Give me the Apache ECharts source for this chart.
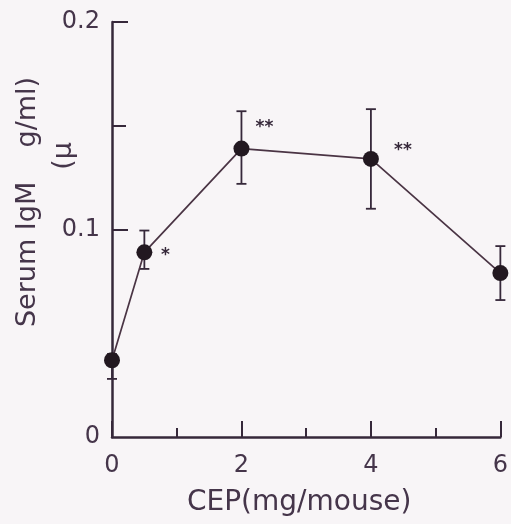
<!DOCTYPE html>
<html>
<head>
<meta charset="utf-8">
<script src="https://cdn.jsdelivr.net/npm/echarts@6/dist/echarts.min.js"></script>
<style>
  html, body { margin: 0; padding: 0; background: #f8f5f7; }
  #chart { width: 511px; height: 524px; }
</style>
</head>
<body>
<div id="chart"></div>
<script>
// ---- data ----
const doses = [0, 0.5, 2, 4, 6];               // CEP (mg/mouse)
const igm = [0.037, 0.089, 0.139, 0.134, 0.079]; // serum IgM (µg/ml), mean
const errLow = [0.028, 0.081, 0.122, 0.110, 0.066];
const errHigh = [0.040, 0.0995, 0.157, 0.158, 0.092];
const sig = ['', '*', '**', '**', ''];
const xTickLabels = [0, 2, 4, 6];
const yTickLabels = [0, 0.1, 0.2];
const xTitle = 'CEP(mg/mouse)';
const yTitleMain = 'Serum IgM    g/ml)';
const yTitleMu = '(\u03bc';

// ---- chart ----
const ink = '#36283a';
const textInk = '#45354a';
const font = 'DejaVu Sans';

const chart = echarts.init(document.getElementById('chart'), null, { renderer: 'canvas' });

const points = doses.map((d, i) => [d, igm[i]]);
const bars = doses.map((d, i) => [d, errLow[i], errHigh[i]]);
const starOffsets = [[0, 0], [21, 3], [23, -21], [32, -8], [0, 0]];

const option = {
  backgroundColor: '#f8f5f7',
  animation: false,
  grid: { left: 112, right: 8, top: 22, bottom: 87, containLabel: false },
  xAxis: {
    type: 'value',
    min: 0, max: 6, interval: 2,
    axisLine: { show: true, lineStyle: { color: ink, width: 2.5 } },
    axisTick: { show: true, inside: true, length: 16, lineStyle: { color: ink, width: 2 } },
    minorTick: { show: true, splitNumber: 2, length: 9, lineStyle: { color: ink, width: 2 } },
    splitLine: { show: false },
    axisLabel: {
      margin: 17, color: textInk, fontFamily: font, fontSize: 24,
      customValues: xTickLabels, formatter: v => String(v)
    },
    name: xTitle,
    nameLocation: 'middle',
    nameGap: 52,
    nameTextStyle: { color: textInk, fontFamily: font, fontSize: 28, padding: [0, 14, 0, 0] }
  },
  yAxis: [{
    type: 'value',
    min: 0, max: 0.2, interval: 0.1,
    axisLine: { show: true, lineStyle: { color: ink, width: 2.5 } },
    axisTick: { show: true, inside: true, length: 16, lineStyle: { color: ink, width: 2 },
                customValues: [0.1, 0.2] },
    splitLine: { show: false },
    axisLabel: {
      margin: 12, color: textInk, fontFamily: font, fontSize: 24,
      customValues: yTickLabels, formatter: v => (v === 0 ? '0' : v.toFixed(1))
    }
  }, {
    type: 'value',
    position: 'left',
    min: 0, max: 0.2,
    axisLine: { show: false },
    axisTick: { show: true, inside: true, length: 14, lineStyle: { color: ink, width: 2 },
                customValues: [0.15] },
    axisLabel: { show: false },
    splitLine: { show: false }
  }],
  graphic: [{
    type: 'text',
    x: 28, y: 202,
    rotation: Math.PI / 2,
    style: { text: yTitleMain, fill: textInk, font: '27px "DejaVu Sans"', align: 'center', verticalAlign: 'middle' }
  }, {
    type: 'text',
    x: 64, y: 156,
    rotation: Math.PI / 2,
    style: { text: yTitleMu, fill: textInk, font: '27px "DejaVu Sans"', align: 'center', verticalAlign: 'middle' }
  }],
  series: [{
    type: 'custom',
    name: 'error',
    data: bars,
    clip: false,
    z: 2,
    renderItem: function (params, api) {
      const x = api.value(0);
      const lo = api.coord([x, api.value(1)]);
      const hi = api.coord([x, api.value(2)]);
      const cap = 5;
      const st = { stroke: ink, lineWidth: 1.8 };
      return {
        type: 'group',
        children: [
          { type: 'line', shape: { x1: lo[0], y1: lo[1], x2: hi[0], y2: hi[1] }, style: st },
          { type: 'line', shape: { x1: lo[0] - cap, y1: lo[1], x2: lo[0] + cap, y2: lo[1] }, style: st },
          { type: 'line', shape: { x1: hi[0] - cap, y1: hi[1], x2: hi[0] + cap, y2: hi[1] }, style: st }
        ]
      };
    }
  }, {
    type: 'line',
    name: 'IgM',
    data: points,
    clip: false,
    z: 3,
    symbol: 'circle',
    symbolSize: 16,
    lineStyle: { color: '#4a3444', width: 1.7 },
    itemStyle: { color: '#221820' }
  }, {
    type: 'custom',
    name: 'significance',
    data: points,
    clip: false,
    z: 4,
    renderItem: function (params, api) {
      const i = params.dataIndex;
      if (!sig[i]) return null;
      const p = api.coord([api.value(0), api.value(1)]);
      const off = starOffsets[i];
      return {
        type: 'text',
        style: {
          text: sig[i], x: p[0] + off[0], y: p[1] + off[1],
          fill: ink, font: 'bold 17px "DejaVu Sans"', align: 'center', verticalAlign: 'middle'
        }
      };
    }
  }]
};

chart.setOption(option);
</script>
</body>
</html>
